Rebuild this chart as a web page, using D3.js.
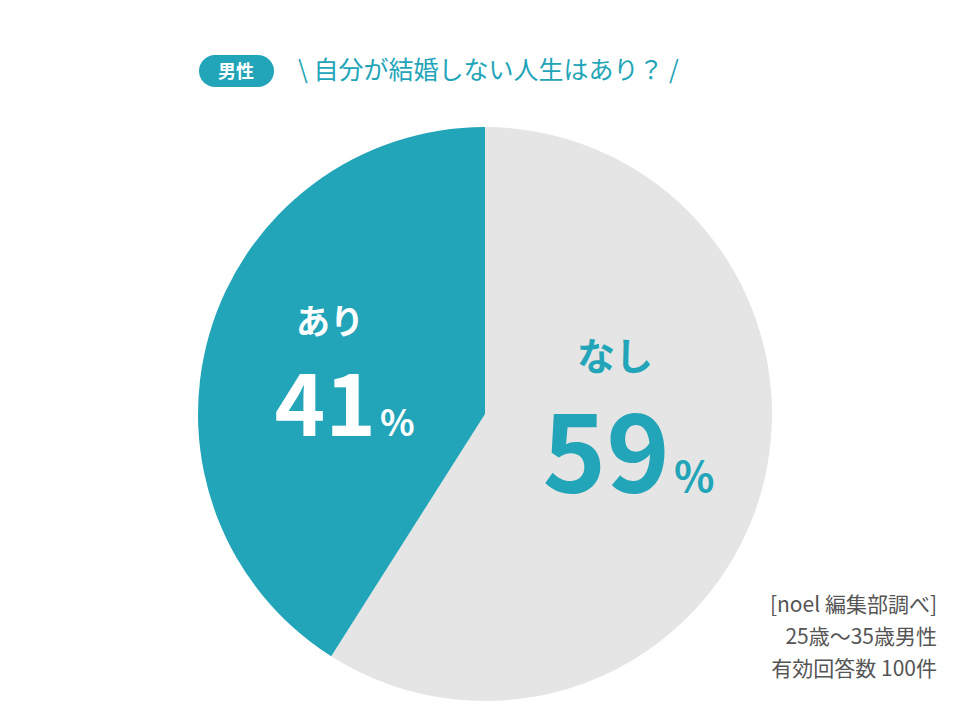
<!DOCTYPE html>
<html><head><meta charset="utf-8">
<script src="https://cdn.jsdelivr.net/npm/d3@7"></script>
<style>body{margin:0;background:#fff}text{font-family:"Noto Sans CJK JP","Noto Sans",sans-serif}</style>
</head><body>
<script>
var categories = ["なし", "あり"];
var values = [59, 41];
var colors = ["#e5e5e5", "#22a5b8"];
var notes = ["[noel 編集部調べ]", "25歳〜35歳男性", "有効回答数 100件"];

var svg = d3.select("body").append("svg").attr("width", 960).attr("height", 720);

// title pill + question
svg.append("rect").attr("x", 199).attr("y", 55).attr("width", 75).attr("height", 32)
    .attr("rx", 16).attr("fill", "#22a5b8");
svg.append("text").attr("x", 236).attr("y", 78).attr("text-anchor", "middle")
    .attr("fill", "#fff").attr("font-size", 18).attr("font-weight", "bold").text("男性");
svg.append("text").attr("x", 298).attr("y", 79).attr("fill", "#22a5b8")
    .attr("font-size", 25).attr("font-family", "'Open Sans','Noto Sans CJK JP',sans-serif")
    .attr("xml:space", "preserve")
    .text("\\ 自分が結婚しない人生はあり？ /");

var cx = 485, cy = 414, r = 287;
var pie = d3.pie().sort(null).value(function(d) { return d; });
var arc = d3.arc().innerRadius(0).outerRadius(r);
var g = svg.append("g").attr("transform", "translate(" + cx + "," + cy + ")");
g.selectAll("path").data(pie(values)).enter().append("path")
    .attr("d", arc).attr("fill", function(d, i) { return colors[i]; });

// labels
function label(x, y, name, val, col, nameSize, numSize, pctSize, numY, pctX) {
    svg.append("text").attr("x", x).attr("y", y).attr("text-anchor", "middle")
        .attr("fill", col).attr("font-size", nameSize).attr("font-weight", "bold").text(name);
    svg.append("text").attr("x", pctX).attr("y", numY).attr("text-anchor", "end")
        .attr("fill", col).attr("font-weight", "bold").attr("font-family", "Roboto,Arial,sans-serif")
        .attr("font-size", numSize).text(val);
    svg.append("text").attr("x", pctX + 4).attr("y", numY).attr("fill", col)
        .attr("font-weight", "bold").attr("font-family", "Roboto,Arial,sans-serif")
        .attr("font-size", pctSize).text("%");
}
label(330, 334, categories[1], values[1], "#fff", 34, 86, 36, 436, 376);
label(615, 370, categories[0], values[0], "#22a5b8", 38, 108, 42, 492, 670);

svg.selectAll(".note").data(notes).enter().append("text")
    .attr("x", 937).attr("y", function(d, i) { return 612 + i * 32; })
    .attr("text-anchor", "end").attr("fill", "#555").attr("font-size", 21)
    .attr("font-family", "'Open Sans','Noto Sans CJK JP',sans-serif")
    .text(function(d) { return d; });
</script>
</body></html>
